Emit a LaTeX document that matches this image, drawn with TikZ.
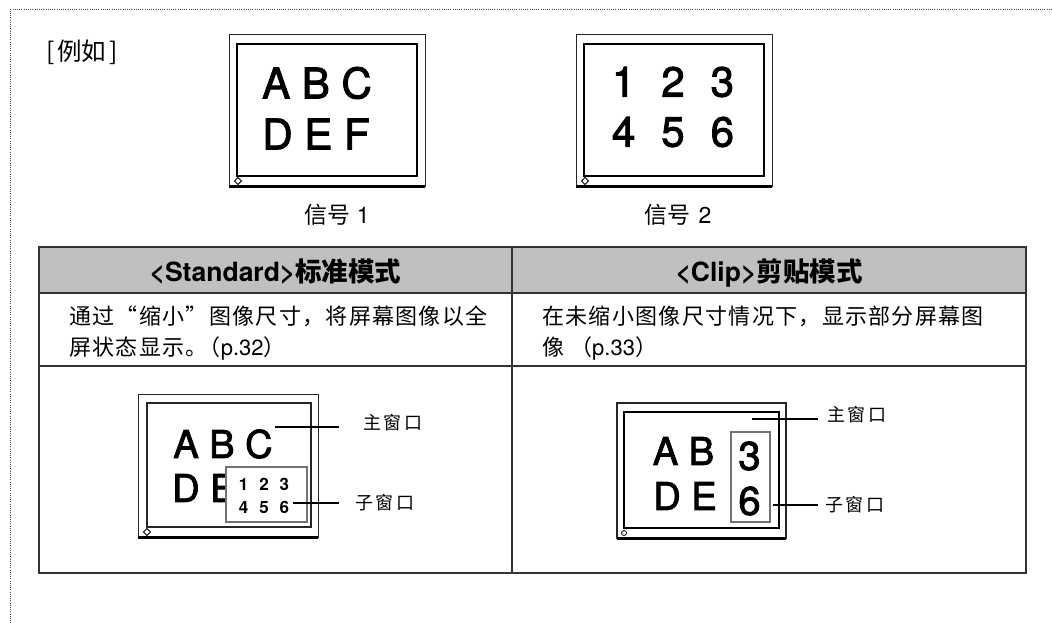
\documentclass[tikz,border=0pt]{standalone}
\usepackage{fontspec}
\setmainfont{TeX Gyre Heros}
\newfontfamily\medf{TeX Gyre Heros}[FakeBold=2.2]
\newfontfamily\cj{Noto Sans CJK SC}
\newfontfamily\cjd{Noto Sans CJK SC}[LetterSpace=6]
\begin{document}
\begin{tikzpicture}[x=1pt,y=-1pt,
  bezel/.style={draw=black!85,line width=1pt},
  screen/.style={draw=black,line width=2pt},
  basebar/.style={line width=3pt},
  subwin/.style={draw=black!55,line width=1.2pt,fill=white},
  leader/.style={line width=2pt},
  grid/.style={draw=black!80,line width=1.4pt},
  txt/.style={inner sep=0pt},
  bigA/.style={txt,font=\medf\fontsize{42}{42}\selectfont},
  midA/.style={txt,font=\medf\fontsize{38}{38}\selectfont},
  smallN/.style={txt,font=\bfseries\fontsize{17}{17}\selectfont},
  hdr/.style={txt,font=\bfseries\fontsize{26.5}{26.5}\selectfont},
  desc/.style={txt,font=\fontsize{22}{26}\selectfont},
  lab/.style={txt,font=\cj\fontsize{18}{18}\selectfont},
  capt/.style={txt,font=\fontsize{23}{23}\selectfont},
  diam/.pic={\draw[fill=white,line width=0.8pt] (0,-3.5)--(3.5,0)--(0,3.5)--(-3.5,0)--cycle;}
]
\useasboundingbox (0,0) rectangle (1052,623);
% dotted frame
\draw[black!70,line width=1pt,dash pattern=on 1pt off 1.2pt] (1052,10) -- (10,10) -- (10,623);

% example label
\node[txt,font=\cj\fontsize{24.5}{24.5}\selectfont] (eg) at (82,52) {[\kern3pt 例如\kern3pt ]};

% ---- top monitor 1
\draw[bezel] (229,35) rectangle (425,186);
\draw[basebar] (229,186) -- (425,186);
\draw[screen] (237,44) rectangle (417,176);
\pic at (238,181) {diam};
\node[bigA] (abc1) at (317,83) {A B C};
\node[bigA] (def1) at (316,134) {D E F};
\node[capt] (sig1) at (337,215) {{\cj 信号} 1};

% ---- top monitor 2
\draw[bezel] (576,35) rectangle (772,186);
\draw[basebar] (576,186) -- (772,186);
\draw[screen] (584,44) rectangle (764,176);
\pic at (585,181) {diam};
\node[bigA] (n123) at (673,82) {1\hspace{26pt}2\hspace{26pt}3};
\node[bigA] (n456) at (673,132) {4\hspace{26pt}5\hspace{26pt}6};
\node[capt] (sig2) at (678,215) {{\cj 信号}\hspace{8pt}2};

% ---- table
\fill[fill={rgb,255:red,192;green,192;blue,192}] (39,247) rectangle (1026,293);
\draw[grid] (39,247) rectangle (1026,573);
\draw[grid] (39,293) -- (1026,293);
\draw[grid] (39,366) -- (1026,366);
\draw[grid] (512,247) -- (512,573);

\node[hdr,anchor=base] (h1) at (275.5,281) {<Standard>{\cj 标准模式}};
\node[hdr,anchor=base] (h2) at (769,281) {<Clip>{\cj 剪贴模式}};

\node[desc,anchor=base west] (d1a) at (69,324) {\cjd 通过“缩小”图像尺寸，将屏幕图像以全};
\node[desc,anchor=base west] (d1b) at (69,355) {\cjd 屏状态显示。\kern-9pt（{\rmfamily p.32}）};
\node[desc,anchor=base west] (d2a) at (542,324) {\cjd 在未缩小图像尺寸情况下，显示部分屏幕图};
\node[desc,anchor=base west] (d2b) at (542,355) {\cjd 像\hspace{6pt}（{\rmfamily p.33}）};

% ---- bottom-left monitor (standard)
\draw[bezel] (138,394) rectangle (318,537);
\draw[basebar] (138,537) -- (318,537);
\draw[bezel,line width=1.5pt] (147,403) rectangle (311,527);
\pic at (147,532) {diam};
\node[midA] (abc2) at (223,444) {A B C};
\node[midA,anchor=west] (de2) at (172,488) {D E};
\draw[subwin] (226,467) rectangle (307,522);
\node[smallN] (s123) at (264,484) {1\hspace{11pt}2\hspace{11pt}3};
\node[smallN] (s456) at (264,507) {4\hspace{11pt}5\hspace{11pt}6};
\node[lab] (main1) at (393,423) {主\kern2.5pt 窗\kern2.5pt 口};
\node[lab] (sub1) at (385,503) {子\kern2.5pt 窗\kern2.5pt 口};
\coordinate (m1) at (275,427);
\coordinate (m1e) at (339,427);
\coordinate (s1) at (293,503);
\draw[leader] (m1) -- (m1e);
\draw[leader,shorten >=16pt] (s1) -- (s1 -| sub1.west);

% ---- bottom-right monitor (clip)
\draw[bezel,line width=1.3pt] (617,403) rectangle (786,538);
\draw[basebar] (617,538) -- (786,538);
\draw[screen] (624,412) rectangle (779,528);
\draw[line width=0.8pt,fill=white] (624,533) circle (2.5);
\node[midA] (ab3) at (683.5,451) {A B};
\node[midA] (de3) at (685,496) {D E};
\draw[subwin,fill=none] (731,432) rectangle (770,522);
\node[txt,font=\medf\fontsize{40}{40}\selectfont] (n3) at (749.5,456) {3};
\node[txt,font=\medf\fontsize{40}{40}\selectfont] (n6) at (749.5,501) {6};
\node[lab] (main2) at (857,415) {主\kern2.5pt 窗\kern2.5pt 口};
\node[lab] (sub2) at (855,505) {子\kern2.5pt 窗\kern2.5pt 口};
\coordinate (m2) at (752,419);
\coordinate (s2) at (773,505);
\draw[leader,shorten >=9pt] (m2) -- (m2 -| main2.west);
\draw[leader,shorten >=7pt] (s2) -- (s2 -| sub2.west);
\end{tikzpicture}
\end{document}
